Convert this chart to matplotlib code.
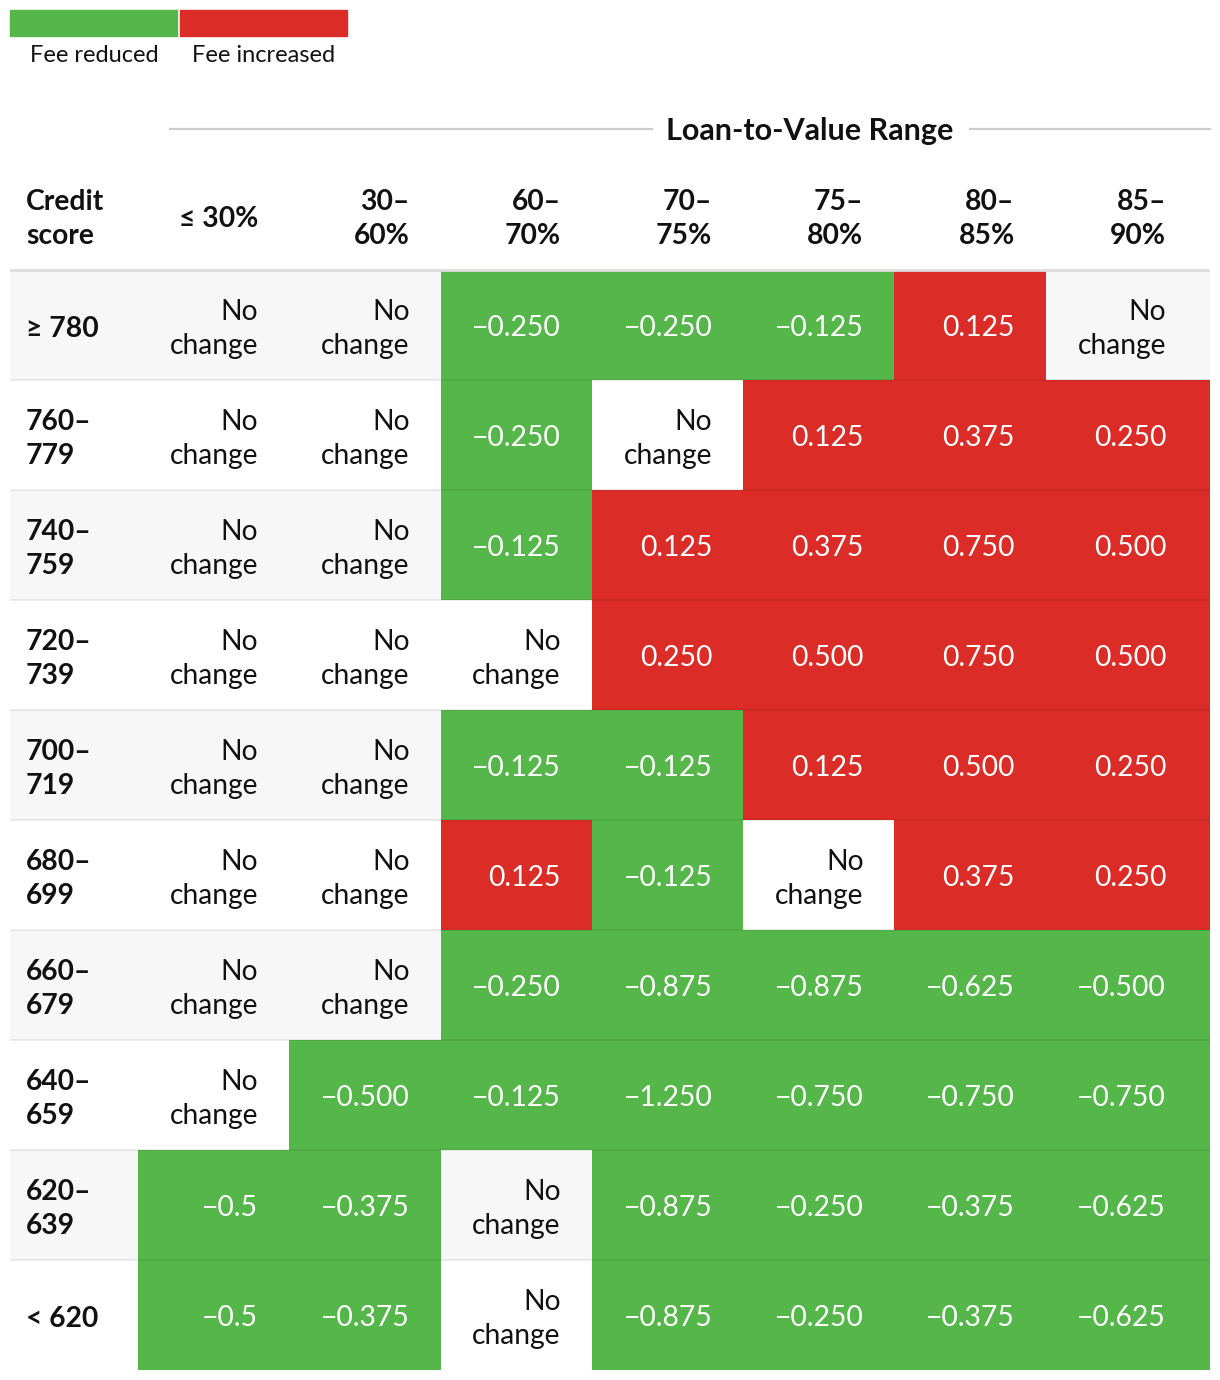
import numpy as np
import matplotlib.pyplot as plt
from matplotlib.patches import Rectangle
from matplotlib.lines import Line2D

# Data
credit_scores = ["≥ 780", "760–\n779", "740–\n759", "720–\n739", "700–\n719",
                 "680–\n699", "660–\n679", "640–\n659", "620–\n639", "< 620"]
ltv_ranges = ["≤ 30%", "30–\n60%", "60–\n70%", "70–\n75%", "75–\n80%", "80–\n85%", "85–\n90%"]

# fee change per cell, "" = no change
fees = [
    ["", "", "-0.250", "-0.250", "-0.125", "0.125", ""],
    ["", "", "-0.250", "", "0.125", "0.375", "0.250"],
    ["", "", "-0.125", "0.125", "0.375", "0.750", "0.500"],
    ["", "", "", "0.250", "0.500", "0.750", "0.500"],
    ["", "", "-0.125", "-0.125", "0.125", "0.500", "0.250"],
    ["", "", "0.125", "-0.125", "", "0.375", "0.250"],
    ["", "", "-0.250", "-0.875", "-0.875", "-0.625", "-0.500"],
    ["", "-0.500", "-0.125", "-1.250", "-0.750", "-0.750", "-0.750"],
    ["-0.5", "-0.375", "", "-0.875", "-0.250", "-0.375", "-0.625"],
    ["-0.5", "-0.375", "", "-0.875", "-0.250", "-0.375", "-0.625"],
]
legend_labels = ["Fee reduced", "Fee increased"]

# Style
GREEN = "#55b74a"
RED = "#dc2c27"
STRIPE = "#f7f7f7"
FS = 20.3
LS = 1.38
plt.rcParams['font.family'] = ['Lato', 'DejaVu Sans']

W, H = 1220, 1380
fig = plt.figure(figsize=(W / 100, H / 100), dpi=100)


def fx(x):
    return x / W


def fy(y):
    return 1 - y / H


# Legend
for i, (lab, col) in enumerate(zip(legend_labels, [GREEN, RED])):
    x0 = 10 + i * 170
    fig.patches.append(Rectangle((fx(x0), fy(36)), fx(167), 26 / H, color=col,
                                 transform=fig.transFigure, figure=fig))
    fig.text(fx(x0 + 84), fy(55), lab, ha="center", va="center", fontsize=17, color="#111")

# Spanner title
fig.text(fx(810), fy(131), "Loan-to-Value Range", ha="center", va="center",
         fontsize=22, fontweight="bold", color="#111")
for xa, xb in [(170, 652), (970, 1210)]:
    fig.lines.append(Line2D([fx(xa), fx(xb)], [fy(129), fy(129)], color="#cccccc", lw=1.6,
                            transform=fig.transFigure, figure=fig))

# Table axes: rows in [r, r+1], header above row 0
n_rows, n_cols = len(credit_scores), len(ltv_ranges)
col_px = 151.3
lab_w = 128 / col_px
extra = 13 / col_px          # last column is a little wider
x_right = n_cols + extra
ax = fig.add_axes([fx(10), fy(1370), fx(1200), 1210 / H])
ax.set_xlim(-lab_w, x_right)
ax.set_ylim(n_rows, -1)
ax.axis("off")

pad = 31 / col_px
dy = 0.035
for r in range(n_rows):
    if r % 2 == 0:
        ax.add_patch(Rectangle((-lab_w, r), x_right + lab_w, 1, color=STRIPE, lw=0, zorder=0))
    for c in range(n_cols):
        s = fees[r][c]
        w = 1 + (extra if c == n_cols - 1 else 0)
        if s:
            v = float(s)
            ax.add_patch(Rectangle((c, r), w, 1, color=GREEN if v < 0 else RED, lw=0, zorder=1))
            ax.text(c + 1 - pad, r + 0.5 + dy - 0.01, s.replace("-", "−"), ha="right", va="center",
                    fontsize=FS, color="white", zorder=3)
        else:
            ax.text(c + 1 - pad, r + 0.5 + dy, "No\nchange", ha="right", va="center",
                    fontsize=FS, color="#111", linespacing=LS, zorder=3)
    ax.text(-lab_w + 16 / col_px, r + 0.5 + dy, credit_scores[r], ha="left", va="center",
            fontsize=FS, fontweight="bold", color="#111", linespacing=LS, zorder=3)

# Row separators
for r in range(1, n_rows):
    ax.plot([-lab_w, x_right], [r, r], color="black", alpha=0.07, lw=1.5, zorder=2)
ax.plot([-lab_w, x_right], [0, 0], color="#dddddd", lw=2, zorder=2)

# Header
ax.text(-lab_w + 16 / col_px, -0.465, "Credit\nscore", ha="left", va="center",
        fontsize=FS, fontweight="bold", color="#111", linespacing=LS)
for c, lab in enumerate(ltv_ranges):
    ax.text(c + 1 - pad, -0.465, lab, ha="right", va="center",
            fontsize=FS, fontweight="bold", color="#111", linespacing=LS)

fig.savefig("out.png", dpi=100)
